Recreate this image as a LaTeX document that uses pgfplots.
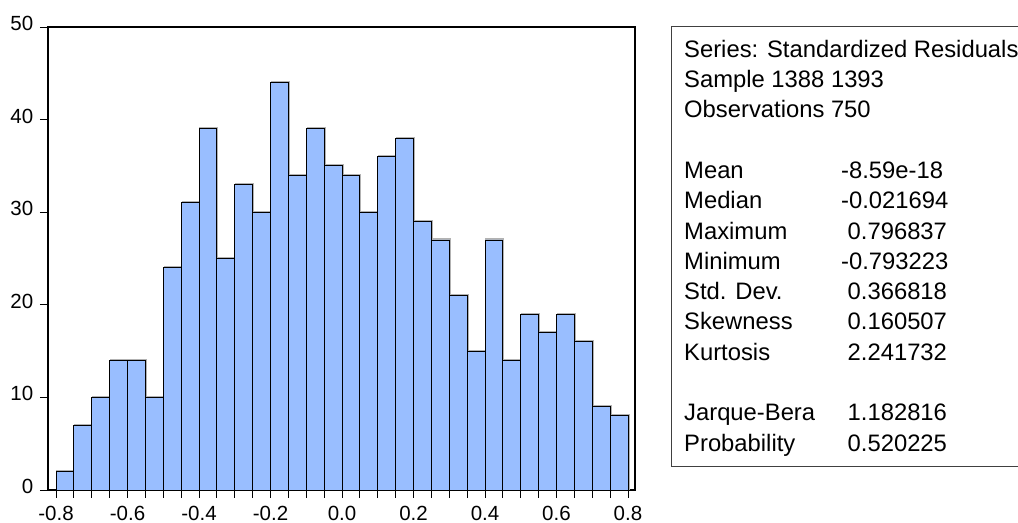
\documentclass[border=0pt]{standalone}
\usepackage{pgfplots}
\pgfplotsset{compat=1.18}
\usepackage{fontspec}
\setmainfont{Liberation Sans}
\definecolor{barblue}{RGB}{153,190,255}
\newcommand{\fs}{\fontsize{23.8bp}{28bp}\selectfont}
\newcommand{\tfs}{\fontsize{20.5bp}{24bp}\selectfont}
\begin{document}
\begin{tikzpicture}[x=1bp,y=1bp]
\useasboundingbox (0,0) rectangle (1018,523);
\begin{axis}[at={(48bp,33bp)}, anchor=south west,
  width=587bp, height=463bp, scale only axis,
  xmin=-0.8224, xmax=0.8196, ymin=0, ymax=50,
  xtick={-0.8,-0.6,-0.4,-0.2,0,0.2,0.4,0.6,0.8},
  xticklabels={-0.8,-0.6,-0.4,-0.2,0.0,0.2,0.4,0.6,0.8},
  minor x tick num=3,
  ytick={0,10,20,30,40,50},
  yticklabels={0,10,20,30,40,50},
  xtick pos=bottom, ytick pos=left,
  tick align=outside,
  major tick length=8bp, minor tick length=8bp,
  every tick/.style={black, line width=0.8bp},
  axis line style={line width=1.2bp},
  every tick label/.append style={font=\tfs, inner sep=0pt},
  xticklabel style={anchor=base, yshift=-22.5bp},
  yticklabel style={anchor=east, xshift=-6.5bp, yshift=3.5bp},
  clip=false,
]
\addplot[ybar interval, fill=none, draw=black!30, line width=1.1bp, xshift=1bp, yshift=1bp] coordinates {
(-0.80,2) (-0.75,7) (-0.70,10) (-0.65,14) (-0.60,14) (-0.55,10)
(-0.50,24) (-0.45,31) (-0.40,39) (-0.35,25) (-0.30,33) (-0.25,30)
(-0.20,44) (-0.15,34) (-0.10,39) (-0.05,35) (0.00,34) (0.05,30)
(0.10,36) (0.15,38) (0.20,29) (0.25,27) (0.30,21) (0.35,15)
(0.40,27) (0.45,14) (0.50,19) (0.55,17) (0.60,19) (0.65,16)
(0.70,9) (0.75,8) (0.80,8)
};
\addplot[ybar interval, fill=barblue, draw=black, line width=0.9bp] coordinates {
(-0.80,2) (-0.75,7) (-0.70,10) (-0.65,14) (-0.60,14) (-0.55,10)
(-0.50,24) (-0.45,31) (-0.40,39) (-0.35,25) (-0.30,33) (-0.25,30)
(-0.20,44) (-0.15,34) (-0.10,39) (-0.05,35) (0.00,34) (0.05,30)
(0.10,36) (0.15,38) (0.20,29) (0.25,27) (0.30,21) (0.35,15)
(0.40,27) (0.45,14) (0.50,19) (0.55,17) (0.60,19) (0.65,16)
(0.70,9) (0.75,8) (0.80,8)
};
\end{axis}
\draw[line width=1bp, black!75] (671,56.3) rectangle (1030,496.3);
\foreach \y/\t in {465.7/{Series: Standardized Residuals}, 435.4/{Sample 1388 1393}, 405.1/{Observations 750},
  344.5/Mean, 314.2/Median, 283.9/Maximum, 253.6/Minimum, 223.3/{Std. Dev.}, 193.0/Skewness, 162.7/Kurtosis,
  102.1/Jarque-Bera, 71.8/Probability}
  \node[anchor=base west, inner sep=0pt, font=\fs] at (684,\y) {\t};
\foreach \x/\y/\t in {841/344.5/-8.59e-18, 841/314.2/-0.021694, 847.5/283.9/0.796837, 841/253.6/-0.793223,
  847.5/223.3/0.366818, 847.5/193.0/0.160507, 847.5/162.7/2.241732, 847.5/102.1/1.182816, 847.5/71.8/0.520225}
  \node[anchor=base west, inner sep=0pt, font=\fs] at (\x,\y) {\t};
\end{tikzpicture}
\end{document}
